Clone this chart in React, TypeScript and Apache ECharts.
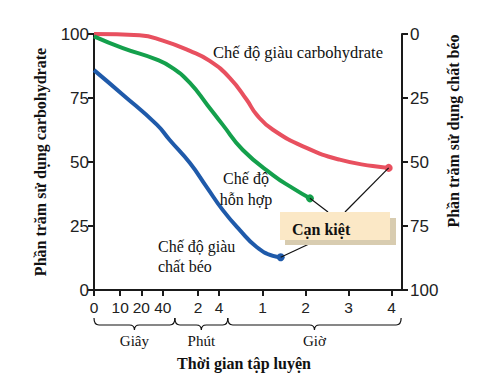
import React, { useEffect, useRef } from 'react';
import * as echarts from 'echarts';

// x axis: piecewise time scale (seconds | minutes | hours), expressed in axis position units
const xTickPos = [0, 0.61, 1.1, 1.6, 2.42, 2.91, 3.92, 4.92, 5.92, 6.92];
const xTickLabels = ['0', '10', '20', '40', '2', '4', '1', '2', '3', '4'];
const xMax = 7.16;

const braceNames = ['Giây', 'Phút', 'Giờ'];
const braceStart = [0, 1.88, 3.11];
const braceEnd = [1.88, 3.11, 7.14];

// Carbohydrate-rich diet
const carbX = [0, 1.06, 1.6, 2.23, 2.69, 3.16, 3.55, 3.78, 4.16, 4.94, 5.71, 6.48, 6.85];
const carbY = [100, 99.5, 97.4, 93.4, 89.5, 82.8, 74.3, 68.5, 62.6, 55.5, 50.9, 48.4, 47.7];

// Mixed diet
const mixX = [0, 0.67, 1.46, 1.83, 2.23, 2.63, 2.99, 3.46, 4.16, 4.62, 5.02];
const mixY = [99.1, 94.5, 90, 86.7, 80.9, 72.4, 64.6, 54.7, 44.9, 39.8, 35.8];

// Fat-rich diet
const fatX = [0, 0.67, 1.46, 1.76, 2.23, 2.62, 2.99, 3.39, 3.78, 4.16, 4.34];
const fatY = [85.9, 76.3, 64.6, 58.6, 49.6, 40.2, 31.3, 23.4, 16.8, 13.3, 12.8];

const RED = '#e8505f';
const GREEN = '#14a04c';
const BLUE = '#1f5aaa';

const SERIF = '"Liberation Serif", "Times New Roman", serif';
const SANS = '"Liberation Sans", Arial, sans-serif';

function mkData(xs: number[], ys: number[], color: string) {
  return xs.map((x, i) =>
    i === xs.length - 1
      ? { value: [x, ys[i]], symbol: 'circle', symbolSize: 8, itemStyle: { color } }
      : { value: [x, ys[i]], symbol: 'none' }
  );
}

export default function App() {
  const ref = useRef<HTMLDivElement>(null);
  useEffect(() => {
    if (!ref.current) return;
    const chart = echarts.init(ref.current, null, { renderer: 'svg' });
    const axisColor = '#1a1a1a';
    const mkLine = (name: string, xs: number[], ys: number[], color: string) => ({
      type: 'line',
      name,
      data: mkData(xs, ys, color),
      smooth: 0.5,
      showSymbol: true,
      lineStyle: { color, width: 4 },
      itemStyle: { color },
      z: 3,
    });
    chart.setOption({
      animation: false,
      grid: { left: 94, top: 34, width: 308, height: 256, containLabel: false },
      xAxis: {
        type: 'value',
        min: 0,
        max: xMax,
        splitLine: { show: false },
        axisLine: { show: true, lineStyle: { color: axisColor, width: 2 } },
        axisTick: { show: true, customValues: xTickPos, length: 6, lineStyle: { color: axisColor, width: 2 } },
        axisLabel: {
          customValues: xTickPos,
          margin: 9,
          color: '#222',
          fontFamily: SANS,
          fontSize: 15.5,
          formatter: (v: number) => {
            const i = xTickPos.findIndex((p) => Math.abs(p - v) < 1e-6);
            return i >= 0 ? xTickLabels[i] : '';
          },
        },
      },
      yAxis: [
        {
          type: 'value',
          min: 0,
          max: 100,
          interval: 25,
          position: 'left',
          splitLine: { show: false },
          axisLine: { show: true, lineStyle: { color: axisColor, width: 2 } },
          axisTick: { show: true, length: 6, lineStyle: { color: axisColor, width: 2 } },
          axisLabel: { margin: 5, color: '#222', fontFamily: SANS, fontSize: 17 },
        },
        {
          type: 'value',
          min: 0,
          max: 100,
          interval: 25,
          inverse: true,
          position: 'right',
          splitLine: { show: false },
          axisLine: { show: true, lineStyle: { color: axisColor, width: 2 } },
          axisTick: { show: true, length: 6, lineStyle: { color: axisColor, width: 2 } },
          axisLabel: { margin: 8, color: '#222', fontFamily: SANS, fontSize: 17 },
        },
      ],
      series: [
        mkLine('Chế độ giàu carbohydrate', carbX, carbY, RED),
        mkLine('Chế độ hỗn hợp', mixX, mixY, GREEN),
        mkLine('Chế độ giàu chất béo', fatX, fatY, BLUE),
      ],
    });

    const px = (x: number, y: number) => chart.convertToPixel({ xAxisIndex: 0, yAxisIndex: 0 }, [x, y]) as number[];
    const xPx = (x: number) => px(x, 0)[0];

    // braces under axis
    const yTop = 318;
    const yMid = 325;
    const yCusp = 330;
    const r = 5;
    const braceEls: any[] = [];
    braceNames.forEach((name, i) => {
      const a = xPx(braceStart[i]);
      const b = xPx(braceEnd[i]);
      const m = (a + b) / 2;
      const d =
        `M${a},${yTop} Q${a},${yMid} ${a + r},${yMid} L${m - r},${yMid} Q${m},${yMid} ${m},${yCusp} ` +
        `M${m},${yCusp} Q${m},${yMid} ${m + r},${yMid} L${b - r},${yMid} Q${b},${yMid} ${b},${yTop}`;
      const shapeName = 'brace' + i;
      echarts.graphic.registerShape(shapeName, echarts.graphic.extendPath(d, {}) as any);
      braceEls.push({
        type: shapeName,
        x: 0,
        y: 0,
        style: { stroke: '#111', fill: null, lineWidth: 1.2 },
        silent: true,
      });
      braceEls.push({
        type: 'text',
        x: m,
        y: 341,
        style: { text: name, font: `15px ${SERIF}`, fill: '#111', textAlign: 'center', textVerticalAlign: 'middle' },
      });
    });

    const redEnd = px(carbX[carbX.length - 1], carbY[carbY.length - 1]);
    const greenEnd = px(mixX[mixX.length - 1], mixY[mixY.length - 1]);
    const blueEnd = px(fatX[fatX.length - 1], fatY[fatY.length - 1]);

    const txt = (text: string, x: number, y: number, align: string, font: string) => ({
      type: 'text',
      x,
      y,
      z: 10,
      style: { text, font, fill: '#111', textAlign: align, textVerticalAlign: 'middle' },
    });

    chart.setOption({
      graphic: [
        ...braceEls,
        { type: 'line', z: 5, shape: { x1: redEnd[0], y1: redEnd[1], x2: 345, y2: 212 }, style: { stroke: '#111', lineWidth: 1.2 } },
        { type: 'line', z: 5, shape: { x1: greenEnd[0], y1: greenEnd[1], x2: 328, y2: 212 }, style: { stroke: '#111', lineWidth: 1.2 } },
        { type: 'line', z: 5, shape: { x1: blueEnd[0], y1: blueEnd[1], x2: 309, y2: 244 }, style: { stroke: '#111', lineWidth: 1.2 } },
        { type: 'rect', z: 6, shape: { x: 285, y: 218, width: 111, height: 27 }, style: { fill: '#d8ccb0' } },
        { type: 'rect', z: 7, shape: { x: 280, y: 212, width: 110, height: 28 }, style: { fill: '#fbe8c6' } },
        txt('Cạn kiệt', 292, 229, 'left', `bold 16px ${SERIF}`),
        txt('Chế độ giàu carbohydrate', 213, 52, 'left', `16.5px ${SERIF}`),
        txt('Chế độ', 246, 178, 'center', `16px ${SERIF}`),
        txt('hỗn hợp', 246, 199, 'center', `16px ${SERIF}`),
        txt('Chế độ giàu', 158, 246, 'left', `16px ${SERIF}`),
        txt('chất béo', 158, 266, 'left', `16px ${SERIF}`),
        txt('Thời gian tập luyện', 244, 363, 'center', `bold 16px ${SERIF}`),
        {
          type: 'text',
          x: 40,
          y: 162,
          rotation: Math.PI / 2,
          style: { text: 'Phần trăm sử dụng carbohydrate', font: `bold 16px ${SERIF}`, fill: '#111', textAlign: 'center', textVerticalAlign: 'middle' },
        },
        {
          type: 'text',
          x: 453,
          y: 131,
          rotation: Math.PI / 2,
          style: { text: 'Phần trăm sử dụng chất béo', font: `bold 16px ${SERIF}`, fill: '#111', textAlign: 'center', textVerticalAlign: 'middle' },
        },
      ],
    });

    return () => chart.dispose();
  }, []);
  return <div ref={ref} style={{ width: 493, height: 379, position: 'absolute', left: 0, top: 0 }} />;
}
